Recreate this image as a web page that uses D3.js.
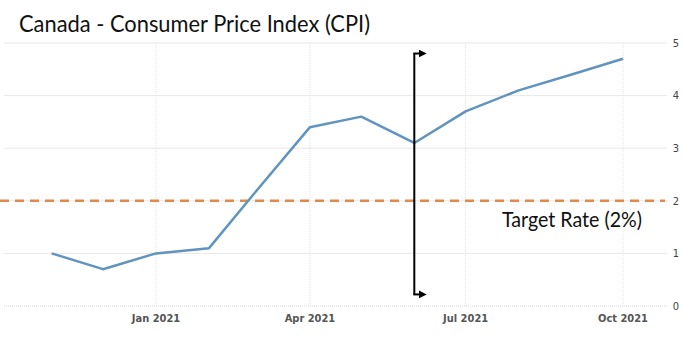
<!DOCTYPE html>
<html>
<head>
<meta charset="utf-8">
<script src="https://cdn.jsdelivr.net/npm/d3@7"></script>
<style>
  html, body { margin: 0; padding: 0; background: #fff; }
  svg { display: block; }
</style>
</head>
<body>
<svg id="chart" width="684" height="340"></svg>
<script>
// Canada CPI, year-over-year %, monthly
const months = ["2020-11", "2020-12", "2021-01", "2021-02", "2021-03", "2021-04",
                "2021-05", "2021-06", "2021-07", "2021-08", "2021-09", "2021-10"];
const cpi = [1.0, 0.7, 1.0, 1.1, 2.2, 3.4, 3.6, 3.1, 3.7, 4.1, 4.4, 4.7];
const yTicks = [0, 1, 2, 3, 4, 5];
const xTickMonths = ["2021-01", "2021-04", "2021-07", "2021-10"];
const targetRate = 2;
const targetLabel = "Target Rate (2%)";
const title = "Canada - Consumer Price Index (CPI)";
// vertical marker spanning the range, at June 2021
const markerMonth = "2021-06";
const markerRange = [4.8, 0.22];

(function draw() {
  const parse = d3.timeParse("%Y-%m");
  const data = months.map((m, i) => ({ date: parse(m), value: cpi[i] }));

  const svg = d3.select("#chart");
  const plotLeft = 4, plotRight = 667, plotTop = 43, plotBottom = 306;

  const x = d3.scaleTime()
    .domain([parse("2021-01"), parse("2021-10")])
    .range([156, 623]);
  const y = d3.scaleLinear().domain([0, 5]).range([plotBottom, plotTop]);

  // horizontal grid
  svg.append("g").selectAll("line").data(yTicks.filter(d => d > 0)).join("line")
    .attr("x1", plotLeft).attr("x2", plotRight)
    .attr("y1", d => y(d)).attr("y2", d => y(d))
    .attr("stroke", "#e8e8e8").attr("stroke-width", 1);

  // vertical grid (dotted)
  svg.append("g").selectAll("line").data(xTickMonths.map(parse)).join("line")
    .attr("x1", d => x(d)).attr("x2", d => x(d))
    .attr("y1", plotTop).attr("y2", plotBottom)
    .attr("stroke", "#e2e2e2").attr("stroke-width", 1)
    .attr("stroke-dasharray", "1,1");

  // zero baseline
  svg.append("line")
    .attr("x1", plotLeft).attr("x2", plotRight)
    .attr("y1", y(0)).attr("y2", y(0))
    .attr("stroke", "#d8d8d8").attr("stroke-width", 1)
    .attr("stroke-dasharray", "1,1");

  // right-hand axis labels
  svg.append("g").selectAll("text").data(yTicks).join("text")
    .attr("x", 676).attr("y", d => y(d))
    .attr("dy", "0.35em")
    .attr("text-anchor", "middle")
    .attr("font-family", "'DejaVu Sans Condensed', 'DejaVu Sans', sans-serif")
    .attr("font-size", 11)
    .attr("fill", "#444")
    .text(d => d);

  // bottom axis labels
  const fmt = d3.timeFormat("%b %Y");
  svg.append("g").selectAll("text").data(xTickMonths.map(parse)).join("text")
    .attr("x", d => x(d)).attr("y", 322)
    .attr("text-anchor", "middle")
    .attr("font-family", "'DejaVu Sans Condensed', 'DejaVu Sans', sans-serif")
    .attr("font-size", 11)
    .attr("font-weight", "bold")
    .attr("fill", "#555")
    .text(d => fmt(d));

  // target rate line
  svg.append("line")
    .attr("x1", 0).attr("x2", 665)
    .attr("y1", y(targetRate)).attr("y2", y(targetRate))
    .attr("stroke", "#e0894a").attr("stroke-width", 2.5)
    .attr("stroke-dasharray", "9,6");

  svg.append("text")
    .attr("x", 502).attr("y", y(targetRate) + 26)
    .attr("font-family", "Lato, 'Open Sans', sans-serif")
    .attr("font-size", 21)
    .attr("textLength", 140)
    .attr("lengthAdjust", "spacingAndGlyphs")
    .attr("fill", "#111")
    .text(targetLabel);

  // CPI line
  svg.append("path")
    .datum(data)
    .attr("fill", "none")
    .attr("stroke", "#6094bf")
    .attr("stroke-width", 2.5)
    .attr("stroke-linejoin", "round")
    .attr("d", d3.line().x(d => x(d.date)).y(d => y(d.value)));

  // marker with arrowheads
  const defs = svg.append("defs");
  defs.append("marker")
    .attr("id", "arrow")
    .attr("viewBox", "0 0 10 10")
    .attr("refX", 2).attr("refY", 5)
    .attr("markerWidth", 4).attr("markerHeight", 4)
    .attr("orient", "auto")
    .append("path").attr("d", "M0,0 L10,5 L0,10 Z").attr("fill", "#000");

  const mx = x(parse(markerMonth));
  const g = svg.append("g").attr("fill", "none").attr("stroke", "#000").attr("stroke-width", 2);
  g.append("line")
    .attr("x1", mx).attr("x2", mx)
    .attr("y1", y(markerRange[0])).attr("y2", y(markerRange[1]));
  g.append("line")
    .attr("x1", mx - 1).attr("x2", mx + 6)
    .attr("y1", y(markerRange[0])).attr("y2", y(markerRange[0]))
    .attr("marker-end", "url(#arrow)");
  g.append("line")
    .attr("x1", mx - 1).attr("x2", mx + 6)
    .attr("y1", y(markerRange[1])).attr("y2", y(markerRange[1]))
    .attr("marker-end", "url(#arrow)");

  // title
  svg.append("text")
    .attr("x", 19).attr("y", 32)
    .attr("font-family", "Lato, 'Open Sans', sans-serif")
    .attr("font-size", 23)
    .attr("textLength", 351)
    .attr("lengthAdjust", "spacingAndGlyphs")
    .attr("fill", "#111")
    .text(title);
})();
</script>
</body>
</html>
